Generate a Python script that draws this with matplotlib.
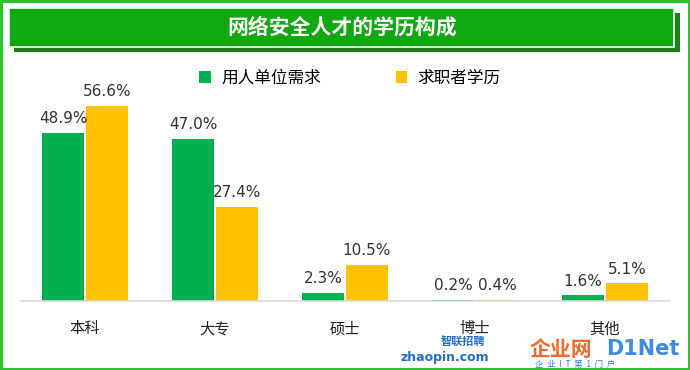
import matplotlib.pyplot as plt
from matplotlib.patches import Rectangle

plt.rcParams['font.family'] = ['Noto Sans CJK SC', 'DejaVu Sans']

categories = ['本科', '大专', '硕士', '博士', '其他']
demand = [48.9, 47.0, 2.3, 0.2, 1.6]
seekers = [56.6, 27.4, 10.5, 0.4, 5.1]
series_names = ['用人单位需求', '求职者学历']
title = '网络安全人才的学历构成'

green = '#00b050'
yellow = '#ffc000'

W, H = 690, 370
fig = plt.figure(figsize=(6.9, 3.7), dpi=100)

def box(x0, y0, x1, y1):
    # pixel box (top-left origin) -> figure fraction rect
    return (x0 / W, 1 - y1 / H, (x1 - x0) / W, (y1 - y0) / H)

# outer green frame
fig.patches.append(Rectangle((0.002, 0.003), 0.996, 0.994, transform=fig.transFigure,
                             fill=False, edgecolor='#2ec02e', linewidth=2.2))

# title banner with shadow
x, y, w, h = box(14, 13, 680, 52)
fig.patches.append(Rectangle((x, y), w, h, transform=fig.transFigure,
                             facecolor='#1e7d1e', edgecolor='none'))
x, y, w, h = box(9, 8, 674, 47)
fig.patches.append(Rectangle((x, y), w, h, transform=fig.transFigure,
                             facecolor='#10a810', edgecolor='white', linewidth=1.2))
fig.text(342 / W, 1 - 27 / H, title, ha='center', va='center', color='white',
         fontsize=15, fontweight='bold')

# plot area
ax = fig.add_axes([20 / W, 1 - 301 / H, 650 / W, 206.7 / H])
xs = range(len(categories))
bw = 0.33
b1 = ax.bar([i - bw / 2 - 0.004 for i in xs], demand, bw, color=green, label=series_names[0])
b2 = ax.bar([i + bw / 2 + 0.004 for i in xs], seekers, bw, color=yellow, label=series_names[1])
for bars, vals in ((b1, demand), (b2, seekers)):
    for r, v in zip(bars, vals):
        ax.text(r.get_x() + r.get_width() / 2, v + 2.0, f'{v:.1f}%', ha='center', va='bottom',
                fontsize=11, color='#333333', family='DejaVu Sans')

ax.set_xlim(-0.5, 4.5)
ax.set_ylim(0, 60)
ax.set_yticks([])
ax.set_xticks(list(xs))
ax.set_xticklabels(categories, fontsize=11, color='#222222')
ax.tick_params(axis='x', length=0, pad=14)
for s in ['top', 'right', 'left']:
    ax.spines[s].set_visible(False)
ax.spines['bottom'].set_color('#d9d9d9')
ax.spines['bottom'].set_linewidth(1.2)

leg = fig.legend(handles=[b1, b2], labels=series_names, loc='center', ncol=2,
                 bbox_to_anchor=(350 / W, 1 - 78 / H), frameon=False, fontsize=12,
                 handlelength=0.7, handleheight=0.7, columnspacing=4.5, handletextpad=0.6)

# watermarks (logos in the source image)
fig.text(463 / W, 1 - 342 / H, '智联招聘', ha='center', va='center', color='#1e6fd0',
         fontsize=8, fontweight='bold')
fig.text(445 / W, 1 - 357 / H, 'zhaopin.com', ha='center', va='center', color='#1e6fd0',
         fontsize=9, fontweight='bold', family='DejaVu Sans')
fig.text(530 / W, 1 - 350 / H, '企业网', ha='left', va='center', color='#f05a14',
         fontsize=15, fontweight='bold', alpha=0.9)
fig.text(680 / W, 1 - 349 / H, 'D1Net', ha='right', va='center', color='#2a7fe0',
         fontsize=15, fontweight='bold', family='DejaVu Sans', alpha=0.9)
fig.text(535 / W, 1 - 365 / H, '企  业  I  T  第  1  门  户', ha='left', va='center',
         color='#2a7fe0', fontsize=6)

fig.savefig('out.png', dpi=100)
